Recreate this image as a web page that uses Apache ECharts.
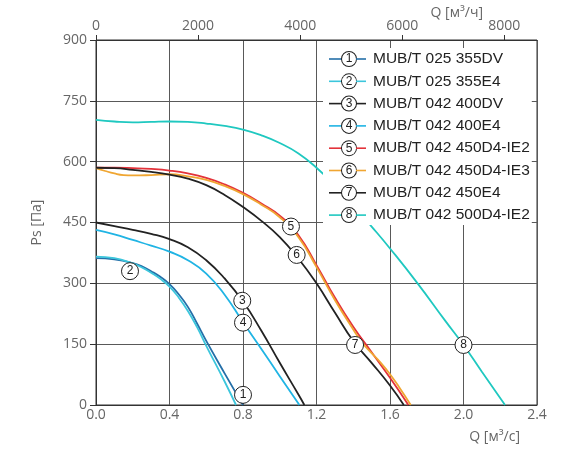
<!DOCTYPE html>
<html lang="ru">
<head>
<meta charset="UTF-8">
<title>MUB/T</title>
<style>
  html, body { margin: 0; padding: 0; background: #fff; }
  #chart { width: 578px; height: 454px; }
</style>
</head>
<body>
<div id="chart"></div>
<script src="https://cdn.jsdelivr.net/npm/echarts@6/dist/echarts.min.js"></script>
<script>
// названия кривых
var names = [
  'MUB/T 025 355DV',
  'MUB/T 025 355E4',
  'MUB/T 042 400DV',
  'MUB/T 042 400E4',
  'MUB/T 042 450D4-IE2',
  'MUB/T 042 450D4-IE3',
  'MUB/T 042 450E4',
  'MUB/T 042 500D4-IE2'
];

// [Q м3/с, Ps Па]
var c355DV = [[0,362],[0.1,359],[0.2,350],[0.25,342],[0.3,330],[0.35,316],[0.4,298],[0.45,273],[0.5,242],[0.55,201],[0.6,158],[0.7,78],[0.8,0]];
var c355E4 = [[0,366],[0.1,362],[0.2,349],[0.25,339],[0.3,326],[0.35,311],[0.4,292],[0.45,265],[0.5,232],[0.55,192],[0.6,146],[0.7,58],[0.762,0]];
var c400DV = [[0,450],[0.1,441],[0.2,432],[0.3,422],[0.4,409],[0.5,389],[0.6,357],[0.7,312],[0.8,255],[0.9,183],[1.0,104],[1.1,27],[1.134,0]];
var c400E4 = [[0,432],[0.1,421],[0.2,407],[0.3,393],[0.4,378],[0.5,357],[0.6,324],[0.7,272],[0.8,204],[0.9,138],[1.0,71],[1.107,0]];
var c450IE2 = [[0,585],[0.1,585],[0.2,584],[0.3,582],[0.4,578],[0.5,571],[0.6,560],[0.7,544],[0.8,523],[0.9,497],[1.0,467],[1.1,420],[1.2,345],[1.3,265],[1.4,193],[1.5,130],[1.6,67],[1.7,0]];
var c450IE3 = [[0,584],[0.05,577],[0.1,571],[0.15,567],[0.2,566],[0.3,567],[0.4,569],[0.5,564],[0.6,555],[0.7,540],[0.8,520],[0.9,494],[1.0,463],[1.1,415],[1.2,340],[1.3,259],[1.4,186],[1.45,153],[1.5,128],[1.55,104],[1.6,76],[1.65,44],[1.713,0]];
var c450E4 = [[0,585],[0.1,584],[0.2,580],[0.3,575],[0.4,568],[0.5,558],[0.6,542],[0.7,518],[0.8,488],[0.9,454],[1.0,414],[1.1,362],[1.2,300],[1.3,228],[1.4,158],[1.5,104],[1.6,48],[1.675,0]];
var c500IE2 = [[0,703],[0.1,699],[0.2,697],[0.3,698],[0.4,699],[0.5,698],[0.6,694],[0.7,688],[0.8,679],[0.9,665],[1.0,646],[1.1,621],[1.2,585],[1.3,541],[1.4,492],[1.5,440],[1.6,386],[1.75,300],[1.9,208],[2.0,148],[2.1,82],[2.226,0]];

// где стоят кружки с номерами
var markAt = [[0.8,25],[0.185,330],[0.796,257],[0.8,203],[1.061,440],[1.092,370],[1.41,148],[2.0,148]];

var topTicks = [0, 2000, 4000, 6000, 8000];

var curves = [c355DV, c355E4, c400DV, c400E4, c450IE2, c450IE3, c450E4, c500IE2];
var colors = ['#246fa8', '#3cc6dc', '#222222', '#20b4e4', '#e3323a', '#f0a632', '#222222', '#1fc8c0'];

var FONT = 'Open Sans';
var rich = {
  c: { width: 14, height: 14, lineHeight: 14, borderRadius: 7, borderWidth: 1, borderColor: '#222',
       backgroundColor: '#fff', align: 'center', fontSize: 12, color: '#222', fontFamily: 'Liberation Sans' },
  t: { padding: [0, 0, 0, 7], fontSize: 15.5, lineHeight: 16, color: '#222', fontFamily: 'Liberation Sans' }
};
colors.forEach(function (c, i) {
  rich['l' + i] = { width: 13, height: 1.6, backgroundColor: c };
  rich['r' + i] = { width: 10, height: 1.6, backgroundColor: c };
});

var series = curves.map(function (d, i) {
  return {
    name: names[i],
    type: 'line',
    smooth: 0.5,
    symbol: 'none',
    data: d,
    lineStyle: { color: colors[i], width: 1.8 },
    itemStyle: { color: colors[i] },
    markPoint: {
      silent: true,
      symbol: 'circle',
      symbolSize: 17,
      itemStyle: { color: '#fff', borderColor: '#222', borderWidth: 1 },
      label: { show: true, formatter: String(i + 1), color: '#222', fontSize: 12, fontFamily: 'Liberation Sans' },
      data: [{ coord: markAt[i] }]
    }
  };
});

var chart = echarts.init(document.getElementById('chart'));
chart.setOption({
  animation: false,
  grid: { left: 96, right: 41, top: 40, bottom: 49, show: true, borderColor: '#333', borderWidth: 1,
          backgroundColor: 'transparent', outerBoundsMode: 'none' },
  legend: {
    left: 323, top: 48,
    orient: 'vertical',
    selectedMode: false,
    backgroundColor: '#fff',
    padding: [3, 2, 2, 1],
    icon: 'none',
    itemWidth: 0,
    itemHeight: 14,
    itemGap: 6.3,
    data: names,
    formatter: function (name) {
      var i = names.indexOf(name);
      return '{l' + i + '| }{c|' + (i + 1) + '}{r' + i + '| }{t|' + name + '}';
    },
    textStyle: { rich: rich }
  },
  xAxis: [{
    type: 'value', position: 'bottom',
    min: 0, max: 2.4, interval: 0.4,
    name: 'Q [м³/с]', nameLocation: 'end', nameGap: -17, nameMoveOverlap: false,
    nameTextStyle: { align: 'right', verticalAlign: 'top', padding: [25, 0, 0, 0], color: '#666', fontSize: 14, fontFamily: FONT },
    axisLine: { show: true, lineStyle: { color: '#333' } },
    axisTick: { show: false },
    axisLabel: { color: '#666', fontSize: 14, fontFamily: FONT, margin: 3, formatter: function (v) { return v.toFixed(1); } },
    splitLine: { show: true, lineStyle: { color: '#595959', width: 1 } }
  }, {
    type: 'value', position: 'top',
    min: 0, max: 8640,
    name: 'Q [м³/ч]', nameLocation: 'end', nameGap: -54, nameMoveOverlap: false,
    nameTextStyle: { align: 'right', verticalAlign: 'bottom', padding: [0, 0, 20, 0], color: '#666', fontSize: 14, fontFamily: FONT },
    axisLine: { show: true, lineStyle: { color: '#333' } },
    axisTick: { show: true, inside: false, length: 5, customValues: topTicks, lineStyle: { color: '#333' } },
    axisLabel: { color: '#666', fontSize: 14, fontFamily: FONT, margin: 7, customValues: topTicks,
                 formatter: function (v) { return String(v); } },
    splitLine: { show: false }
  }],
  yAxis: {
    type: 'value',
    min: 0, max: 900, interval: 150,
    name: 'Ps [Па]', nameLocation: 'middle', nameGap: 52, nameRotate: 90,
    nameTextStyle: { color: '#666', fontSize: 14, fontFamily: FONT },
    axisLine: { show: true, lineStyle: { color: '#333' } },
    axisTick: { show: true, inside: false, length: 6, lineStyle: { color: '#333' } },
    axisLabel: { color: '#666', fontSize: 14, fontFamily: FONT, margin: 9 },
    splitLine: { show: true, lineStyle: { color: '#595959', width: 1 } }
  },
  series: series
});
</script>
</body>
</html>
